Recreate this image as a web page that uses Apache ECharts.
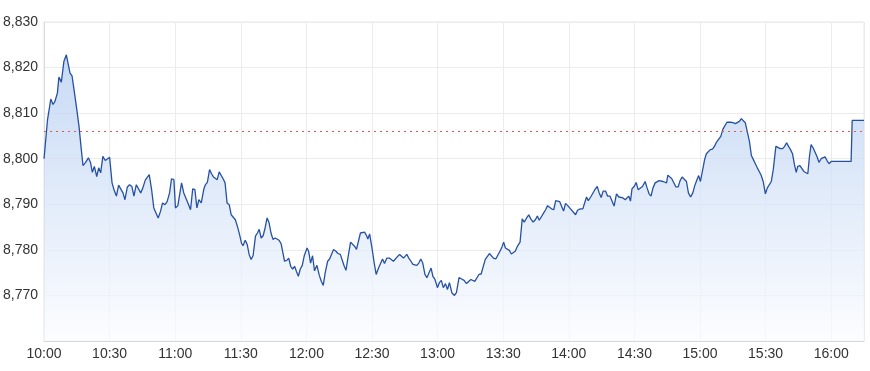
<!DOCTYPE html>
<html>
<head>
<meta charset="utf-8">
<script src="https://cdn.jsdelivr.net/npm/echarts@6/dist/echarts.min.js"></script>
<style>
html,body{margin:0;padding:0;background:#fff;}
#chart{width:870px;height:371px;}
</style>
</head>
<body>
<div id="chart"></div>
<script>
// minutes after 10:00
const minutes = [
0.0,1.6,3.1,4.1,5.0,6.1,6.8,7.9,9.1,10.2,11.0,11.9,12.8,13.7,14.9,16.0,16.9,17.8,19.0,20.3,21.3,22.1,23.0,24.1,25.0,25.9,26.9,28.0,28.9,30.0,
31.1,32.0,33.1,34.1,35.0,36.1,37.0,38.1,39.1,40.2,41.1,42.2,43.1,44.2,45.2,46.3,47.2,48.1,49.2,50.2,51.1,52.2,53.3,54.2,55.3,56.3,57.4,58.3,59.4,60.1,
61.2,62.1,62.9,63.9,64.7,65.8,67.0,68.0,69.0,69.9,70.8,71.9,73.1,73.8,74.7,75.7,76.6,77.5,78.4,79.2,80.1,81.0,81.9,82.8,83.7,84.7,85.6,86.5,87.5,88.4,
89.4,90.3,91.0,92.0,92.9,93.8,94.7,95.6,96.7,97.6,98.4,99.3,100.2,101.1,102.0,102.9,103.8,104.7,105.7,106.6,107.5,108.4,109.3,110.0,111.0,111.9,112.8,113.7,114.6,115.4,
116.3,117.2,118.1,119.0,120.3,121.0,121.9,122.8,123.7,124.8,125.9,126.8,127.7,128.6,129.7,130.6,131.4,132.4,133.5,134.4,135.5,136.4,137.3,138.1,139.1,140.2,141.1,142.0,142.9,143.8,
144.7,145.6,146.6,147.5,148.1,148.9,150.0,151.0,151.9,152.8,153.7,154.8,155.7,156.8,157.9,158.8,159.8,160.7,161.6,162.6,163.5,164.4,165.3,165.9,166.8,167.8,168.7,169.6,170.5,171.4,
172.3,173.2,174.2,175.1,176.0,177.0,177.9,178.8,179.9,180.8,181.7,182.6,183.6,184.5,185.4,186.5,187.7,188.6,189.8,191.0,192.1,193.2,194.1,195.2,196.1,197.0,197.9,198.9,199.9,200.8,
201.8,202.7,203.7,204.6,205.5,206.6,207.5,208.5,209.5,210.2,211.0,211.9,212.8,213.7,214.6,215.5,216.4,217.7,218.7,219.6,220.7,221.7,222.6,223.7,224.7,225.6,226.5,227.4,228.5,229.4,
230.3,231.2,232.1,233.1,234.0,234.9,235.8,236.7,237.6,238.5,239.5,240.4,241.3,242.2,243.1,244.0,245.2,246.4,247.2,248.1,248.9,250.0,250.9,251.9,253.0,253.9,254.8,255.7,256.8,257.7,
258.8,259.6,260.7,261.8,262.9,263.8,264.8,265.8,266.7,267.4,268.2,268.9,269.9,270.8,271.7,272.6,273.7,274.9,275.8,276.7,277.6,278.5,279.5,280.4,281.3,282.2,283.1,284.0,284.7,285.3,
286.2,287.1,288.0,289.0,290.0,290.9,291.8,292.7,293.8,294.7,295.7,296.7,297.6,298.6,299.4,300.2,301.1,302.1,302.9,303.8,304.7,305.7,306.6,307.5,308.4,309.5,310.5,311.3,312.3,313.1,
314.0,315.1,316.2,317.1,318.0,318.9,319.8,320.7,321.6,322.6,323.5,324.4,325.3,326.2,327.1,328.0,328.9,329.9,330.8,331.7,332.6,333.5,334.7,335.6,336.7,337.8,338.7,339.6,340.5,341.4,
342.3,343.2,344.0,344.7,345.7,346.6,347.5,348.4,349.3,350.1,350.8,351.7,352.6,353.5,354.4,355.4,356.3,357.2,358.1,359.0,360.0,369.1,369.6,375.0
];
const prices = [
8800.0,8808.6,8813.1,8811.9,8812.6,8814.4,8817.9,8816.8,8821.4,8822.8,8822.5,8818.8,8818.2,8815.2,8811.1,8807.1,8802.7,8798.5,8799.2,8800.2,8799.1,8797.0,8798.3,8796.1,8798.0,8796.9,8800.5,8799.6,8799.4,8800.3,
8794.7,8793.2,8791.8,8794.2,8794.2,8792.5,8791.0,8793.8,8794.3,8793.9,8791.8,8794.3,8793.9,8792.5,8793.6,8795.3,8795.6,8796.5,8793.2,8789.2,8789.2,8787.0,8788.5,8790.3,8789.9,8790.6,8792.5,8795.6,8795.4,8789.2,
8789.7,8789.3,8794.7,8792.5,8792.6,8790.3,8788.8,8793.4,8793.2,8789.2,8791.0,8790.3,8793.4,8794.3,8794.8,8797.6,8796.7,8796.0,8795.6,8795.4,8797.1,8796.9,8795.6,8794.7,8790.3,8789.9,8787.7,8787.9,8786.6,8785.2,
8783.4,8781.5,8780.9,8782.1,8781.2,8779.0,8777.9,8778.7,8783.0,8783.7,8784.5,8782.6,8783.1,8784.8,8787.0,8786.0,8783.7,8782.3,8782.6,8783.0,8782.1,8781.4,8781.0,8777.5,8777.7,8778.2,8776.4,8775.8,8776.4,8775.3,
8774.2,8775.8,8776.6,8778.7,8780.4,8779.7,8777.1,8778.7,8775.4,8776.6,8774.4,8773.1,8772.2,8775.0,8777.5,8778.0,8777.7,8780.1,8779.7,8779.2,8779.0,8778.6,8776.4,8775.5,8778.6,8781.7,8781.9,8780.8,8780.1,8780.4,
8783.7,8784.1,8783.9,8783.1,8782.4,8783.5,8780.4,8777.1,8774.6,8775.8,8776.0,8778.0,8777.0,8778.2,8778.2,8778.2,8777.5,8777.7,8778.5,8779.0,8778.7,8778.2,8778.6,8779.0,8778.2,8777.5,8776.8,8776.6,8776.6,8777.1,
8778.0,8777.1,8774.6,8773.9,8773.5,8776.0,8774.1,8773.5,8771.7,8772.8,8773.3,8771.7,8772.6,8771.3,8772.8,8770.6,8770.0,8770.6,8773.9,8773.6,8773.3,8772.6,8772.8,8773.5,8773.6,8773.1,8772.8,8774.6,8774.7,8774.7,
8777.9,8778.2,8779.2,8779.1,8778.2,8778.0,8778.2,8779.7,8780.7,8781.7,8780.4,8780.4,8779.9,8779.1,8779.0,8779.7,8780.7,8781.7,8786.8,8786.1,8787.0,8787.7,8786.8,8786.1,8786.6,8787.4,8786.5,8786.5,8788.1,8788.8,
8789.7,8789.9,8789.0,8788.8,8790.8,8791.0,8790.6,8790.2,8788.5,8790.2,8789.7,8789.2,8789.0,8788.2,8787.7,8788.7,8789.0,8789.0,8789.0,8791.6,8790.8,8791.6,8791.8,8793.2,8793.9,8792.5,8791.5,8792.9,8792.9,8791.8,
8791.8,8791.4,8789.6,8792.3,8791.6,8791.5,8791.4,8791.0,8791.4,8791.8,8790.7,8793.4,8793.9,8794.8,8793.2,8793.6,8793.9,8795.0,8793.6,8792.3,8791.8,8793.6,8794.7,8795.0,8795.2,8795.2,8795.0,8795.4,8794.7,8796.4,
8796.3,8795.6,8795.6,8793.8,8793.8,8795.2,8796.0,8795.6,8795.0,8792.5,8791.6,8792.5,8794.1,8795.4,8796.3,8795.0,8795.0,8799.8,8801.1,8800.9,8802.0,8802.1,8802.7,8803.6,8804.2,8804.9,8806.5,8806.8,8808.0,8808.4,
8808.0,8807.9,8807.7,8807.5,8808.2,8808.8,8808.4,8807.9,8806.0,8803.8,8800.7,8799.8,8798.9,8798.0,8797.2,8796.3,8795.0,8792.3,8793.6,8793.8,8795.0,8797.6,8802.7,8802.4,8802.2,8802.2,8802.7,8803.5,8802.7,8802.0,
8801.1,8798.7,8797.0,8798.3,8798.5,8798.3,8797.2,8796.9,8796.7,8800.7,8803.1,8802.4,8802.0,8800.5,8799.2,8800.0,8800.2,8800.4,8799.6,8798.9,8799.4,8799.4,8808.4,8808.4
];
const tickLabels = ['10:00','10:30','11:00','11:30','12:00','12:30','13:00','13:30','14:00','14:30','15:00','15:30','16:00'];
const refPrice = 8806;

const seriesData = minutes.map((m, i) => [m, prices[i]]);

const chart = echarts.init(document.getElementById('chart'), null, {renderer: 'canvas'});
const labelFont = {color: '#333', fontSize: 14, fontFamily: 'Liberation Sans, Arial, sans-serif'};
chart.setOption({
  animation: false,
  backgroundColor: '#fff',
  grid: {left: 43, right: 6, top: 22, bottom: 30, show: true, borderColor: '#e6e6e6', borderWidth: 1},
  xAxis: {
    type: 'value', min: 0, max: 375, interval: 30,
    axisLine: {show: true, lineStyle: {color: '#d9d9d9'}},
    axisTick: {show: false},
    splitLine: {show: true, lineStyle: {color: '#ececec'}},
    axisLabel: Object.assign({margin: 6, showMaxLabel: false,
      formatter: v => { const k = Math.round(v / 30); return (Math.abs(v - k * 30) < 0.01 && tickLabels[k]) ? tickLabels[k] : ''; }
    }, labelFont)
  },
  yAxis: {
    type: 'value', min: 8760, max: 8830, interval: 10,
    axisLine: {show: true, lineStyle: {color: '#d9d9d9'}},
    axisTick: {show: false},
    splitLine: {show: true, lineStyle: {color: '#ececec'}},
    axisLabel: Object.assign({margin: 6, showMinLabel: false,
      formatter: v => v.toLocaleString('en-US')
    }, labelFont)
  },
  series: [{
    type: 'line',
    data: seriesData,
    showSymbol: false,
    symbol: 'none',
    lineStyle: {color: '#2651a3', width: 1.3},
    itemStyle: {color: '#2651a3'},
    areaStyle: {
      color: new echarts.graphic.LinearGradient(0, 0, 0, 1, [
        {offset: 0, color: '#afcaf0'},
        {offset: 1, color: '#fbfcff'}
      ])
    },
    markLine: {
      silent: true,
      symbol: 'none',
      label: {show: false},
      lineStyle: {color: '#e2574c', type: [2, 4], width: 1},
      data: [{yAxis: refPrice}]
    }
  }]
});
</script>
</body>
</html>
